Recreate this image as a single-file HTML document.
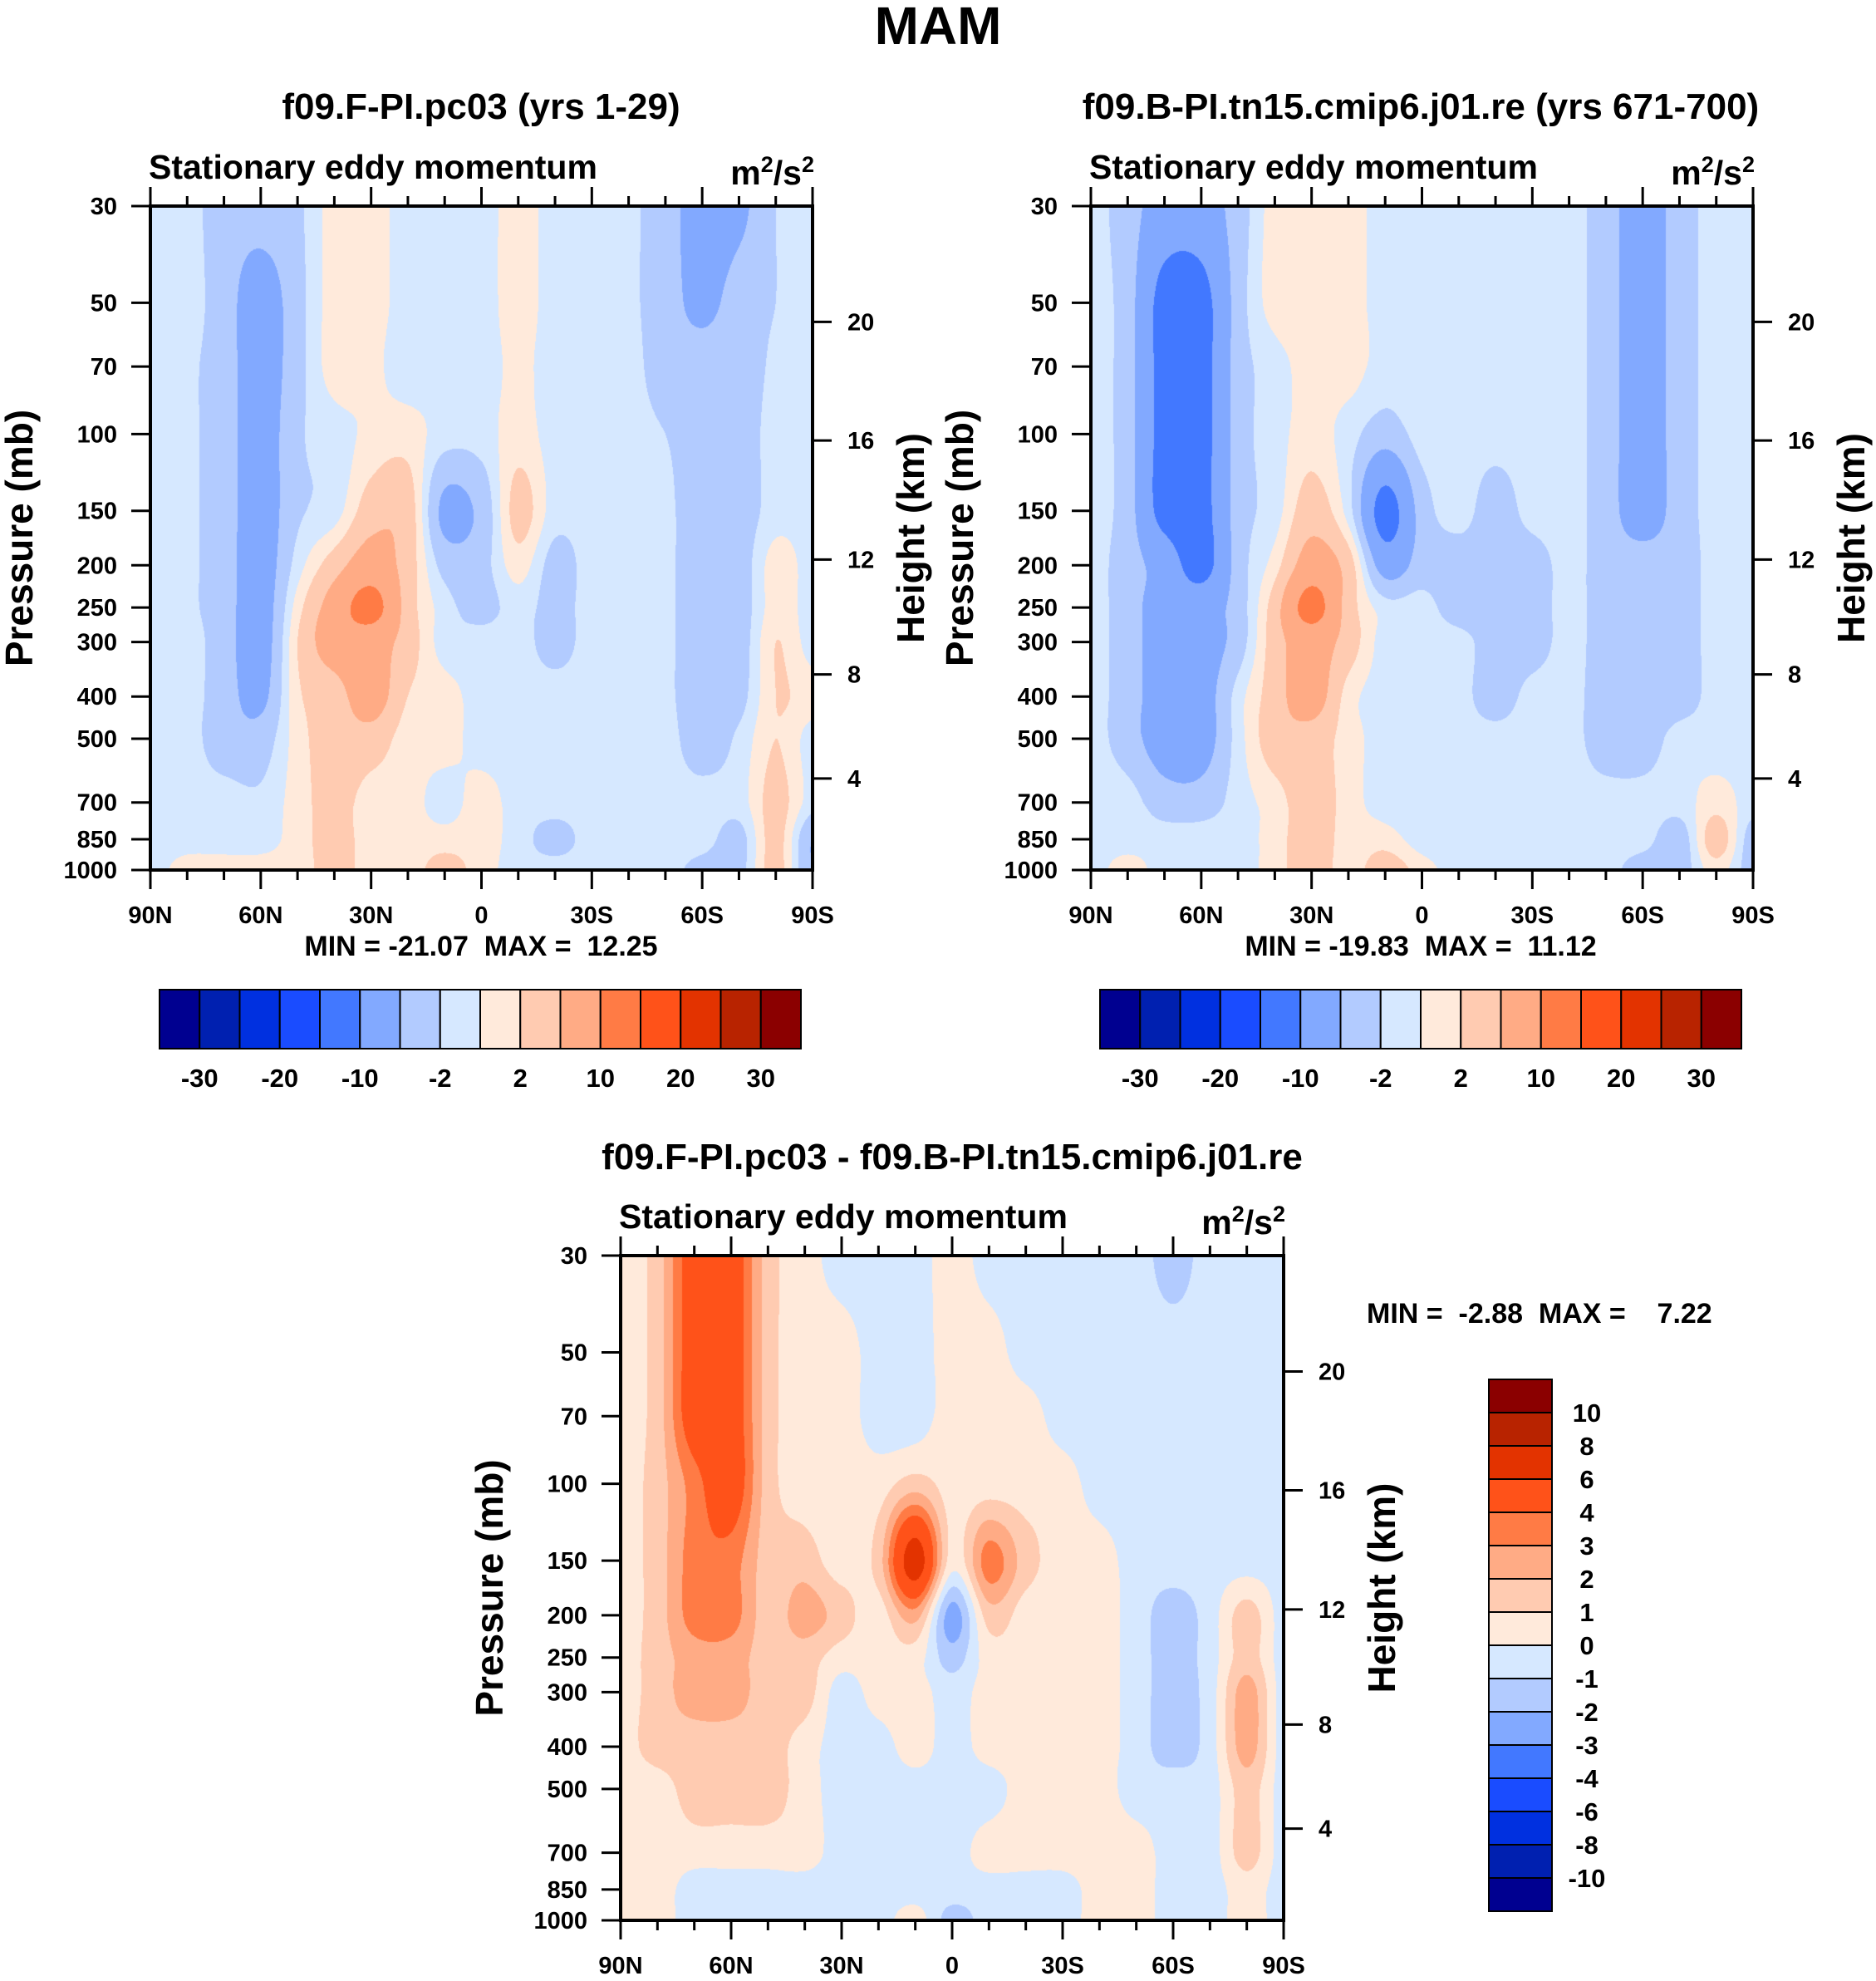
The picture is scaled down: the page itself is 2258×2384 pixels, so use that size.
<!DOCTYPE html>
<html><head><meta charset="utf-8">
<style>
html,body{margin:0;padding:0;background:#fff;}
#wrap{position:relative;width:2258px;height:2384px;overflow:hidden;background:#fff;}
canvas{position:absolute;}
svg{position:absolute;left:0;top:0;}
text{font-family:"Liberation Sans",sans-serif;font-weight:bold;fill:#000;}
</style></head>
<body>
<div id="wrap">
<canvas id="c1" width="797" height="799" style="left:181px;top:248px"></canvas>
<canvas id="c2" width="797" height="799" style="left:1313px;top:248px"></canvas>
<canvas id="c3" width="798" height="800" style="left:747px;top:1511px"></canvas>
<svg id="s" width="2258" height="2384"></svg>
</div>
<script>
// ---- data ----
const lats = [90,80,70,60,50,40,30,20,10,0,-10,-20,-30,-40,-50,-60,-70,-80,-90];
const levels = [30,50,70,100,150,200,250,300,400,500,700,850,1000];
const fieldCtrl = [
[-1,-1,-3.5,-3.5,-2.5,1,1,-1,-1,-1,1,-1,-1,-1.5,-3.5,-7,-6,-2,-1],
[-1,-1,-3.5,-7,-3,1,1,-1,-1,-1,1,-1,-1,-1.5,-3.5,-6,-3.5,-2,-1],
[-1,-1.5,-3.5,-7,-3,1,0.5,-1,-1,-1,0.5,-1,-1,-1,-3.5,-3.5,-3.5,-1.5,-1],
[-1,-1.5,-3.5,-7,-2.5,-1,0.5,1,-1,-1,1,-1,-1,-1,-2,-3.5,-3.5,-1,-1],
[-1,-1.5,-3.5,-7,-2.5,-1,3.5,3.5,-6,-4,3,-1,-1,-1,-1.5,-3.5,-3.5,-1,-1],
[-1,-1.5,-3.5,-7,-1,3.5,7,3.5,-3,-3,1,-3,-1,-1,-1.5,-3.5,-3.5,1,-1],
[-1,-1.5,-3.5,-7,1,7,12,3.5,-1,-3,-1,-3,-1,-1,-1.5,-3.5,-3.5,1,-1],
[-1,-1,-3.5,-7,2,7,7,3.5,-1,-1,-1,-3,-1,-1,-1.5,-3.5,-3.5,2,-1],
[-1,-1,-3.5,-6,1.5,3.5,7,2,1,-1,-1,-1,-1,-1,-1.5,-3.5,-3,2,1],
[-1,-1,-3.5,-3.5,1,3.5,3.5,1,1,-1,-1,-1,-1,-1,-1,-3.5,-1.5,2,-1],
[-1,-1,-1,-1.5,1,3,1,1,-1,1,-1,-1,-1,-1,-1,-1,-1,3,-1],
[-1,-1,-1,-1,1,3,1,1,1,1,-1,-3,-1,-1,-1,-1,-3,3,-5],
[-1,1,1,1,1,3,1,1,3,1,-1,-1,-1,-1,-1,-3,-3,3,-5]];
const fieldTest = [
[-1,-3.5,-7,-7,-3.5,1,1,1,-1,-1,-1,-1,-1,-1,-3.5,-7,-3.5,-1,-1],
[-1,-3.5,-12,-12,-3.5,1,1,1,-1,-1,-1,-1,-1,-1,-3.5,-7,-3.5,-1,-1],
[-1,-3.5,-12,-12,-3.5,-1,1,1,-1,-1,-1,-1,-1,-1,-3.5,-7,-3.5,-1,-1],
[-1,-3.5,-12,-12,-3.5,-1,1,-1,-3.5,-1,-1,-1,-1,-1,-3.5,-7,-3.5,-1,-1],
[-1,-3.5,-12,-12,-3.5,-1,3.5,-1,-12,-3.5,-1,-3.5,-1,-1,-3.5,-7,-3.5,-1,-1],
[-1,-3.5,-7,-12,-3.5,1,7,3.5,-7,-3.5,-3.5,-3.5,-3.5,-1,-3.5,-3.5,-3.5,-1,-1],
[-1,-3.5,-7,-7,-3.5,3.5,12,3.5,-1,-1,-3.5,-3.5,-3.5,-1,-3.5,-3.5,-3.5,-1,-1],
[-1,-3.5,-7,-7,-3.5,3.5,7,3.5,-1,-1,-1,-3.5,-3.5,-1,-3.5,-3.5,-3.5,-1,-1],
[-1,-3.5,-7,-7,-1,3.5,7,1,-1,-1,-1,-3.5,-1,-1,-3.5,-3.5,-3.5,-1,-1],
[-1,-3.5,-7,-7,-1,3.5,3.5,1,-1,-1,-1,-1,-1,-1,-3.5,-3.5,-1,-1,-1],
[-1,-1,-3.5,-3.5,-1,1,3.5,1,-1,-1,-1,-1,-1,-1,-1,-1,-1,1,-1],
[-1,-1,-1,-1,-1,1,3.5,1,1,-1,-1,-1,-1,-1,-1,-1,-3.5,3.5,-3.5],
[-1,1,-1,-1,-1,1,3.5,1,3.5,1,-1,-1,-1,-1,-1,-3.5,-3.5,1,-3.5]];
const fieldDiff = [
[0.5,1.5,5,5,1.5,0.5,-0.5,-0.5,-0.5,0.5,-0.5,-0.5,-0.5,-0.5,-0.5,-1.5,-0.5,-0.5,-0.5],
[0.5,1.5,5,5,1.5,0.5,0.5,-0.5,-0.5,0.5,0.5,-0.5,-0.5,-0.5,-0.5,-0.5,-0.5,-0.5,-0.5],
[0.5,1.5,5,5,1.5,0.5,0.5,-0.5,-0.5,0.5,0.5,0.5,-0.5,-0.5,-0.5,-0.5,-0.5,-0.5,-0.5],
[0.5,1.5,3.5,5,1.5,0.5,0.5,0.5,1.5,0.5,0.5,0.5,0.5,-0.5,-0.5,-0.5,-0.5,-0.5,-0.5],
[0.5,1.5,3.5,3.5,1.5,1.5,0.5,1.5,7,0.5,3.5,1.5,0.5,0.5,-0.5,-0.5,-0.5,-0.5,-0.5],
[0.5,1.5,3.5,3.5,1.5,2.5,1.5,0.5,2.5,-2.5,1.5,0.5,0.5,0.5,-0.5,-1.5,-0.5,1.5,-0.5],
[0.5,1.5,2.5,2.5,1.5,1.5,0.5,0.5,0.5,-1.5,0.5,0.5,0.5,0.5,-0.5,-1.5,-0.5,1.5,-0.5],
[0.5,1.5,2.5,2.5,1.5,1.5,-0.5,0.5,0.5,-0.5,0.5,0.5,0.5,0.5,-0.5,-1.5,-0.5,2.5,-0.5],
[0.5,1.5,1.5,1.5,1.5,0.5,-0.5,-0.5,0.5,-0.5,0.5,0.5,0.5,0.5,-0.5,-1.5,-0.5,2.5,-0.5],
[0.5,0.5,1.5,1.5,1.5,0.5,-0.5,-0.5,-0.5,-0.5,-0.5,0.5,0.5,0.5,-0.5,-0.5,-0.5,1.5,-0.5],
[0.5,0.5,0.5,0.5,0.5,0.5,-0.5,-0.5,-0.5,-0.5,0.5,0.5,0.5,0.5,0.5,-0.5,-0.5,1.5,-0.5],
[0.5,0.5,-0.5,-0.5,-0.5,-0.5,-0.5,-0.5,-0.5,-0.5,-0.5,-0.5,-0.5,0.5,0.5,-0.5,-0.5,0.5,-0.5],
[0.5,0.5,-0.5,-0.5,-0.5,-0.5,-0.5,-0.5,0.5,-1.5,-0.5,-0.5,-0.5,0.5,0.5,-0.5,-0.5,0.5,-0.5]];
const contourLevels = [-30,-25,-20,-15,-10,-5,-2,0,2,5,10,15,20,25,30];
const diffLevels = [-10,-8,-6,-4,-3,-2,-1,0,1,2,3,4,6,8,10];
const fillColors = ["#000090","#0020b0","#0030e0","#1a4cff","#4278ff","#82a9ff","#b2cbff","#d6e8ff","#ffeadb","#ffcbb1","#ffab85","#ff7b45","#ff5219","#e33300","#b82300","#8b0000"];
const pTicks = [30,50,70,100,150,200,250,300,400,500,700,850,1000];
const hTicks = [20,16,12,8,4];
const hTickP = [55.3,103.5,194,356,616.6];
const latTickLabels = ["90N","60N","30N","0","30S","60S","90S"];
const hBarLabels = ["-30","-20","-10","-2","2","10","20","30"];
const vBarLabels = ["10","8","6","4","3","2","1","0","-1","-2","-3","-4","-6","-8","-10"];

// ---- helpers ----
const P0=30,P1=1000,LR=Math.log(P1/P0);
const LOGL=levels.map(Math.log);
function yOfP(p,top,h){return top+Math.log(p/P0)/LR*h;}
function xOfLat(lat,left,w){return left+(90-lat)/180*w;}
function cr(p0,p1,p2,p3,t){
  return 0.5*((2*p1)+(-p0+p2)*t+(2*p0-5*p1+4*p2-p3)*t*t+(-p0+3*p1-3*p2+p3)*t*t*t);
}
function rowIndex(lp){
  let r=0; while(r<LOGL.length-2 && lp>LOGL[r+1]) r++;
  let t=(lp-LOGL[r])/(LOGL[r+1]-LOGL[r]); t=Math.max(0,Math.min(1,t));
  return r+t;
}
function interp(field,fx,fy){
  const nr=field.length,nc=field[0].length;
  const c=Math.min(Math.floor(fx),nc-2),tx=fx-c;
  const r=Math.min(Math.floor(fy),nr-2),ty=fy-r;
  const g=(i,j)=>field[Math.max(0,Math.min(nr-1,i))][Math.max(0,Math.min(nc-1,j))];
  const col=[];
  for(let k=-1;k<=2;k++){
    col.push(cr(g(r+k,c-1),g(r+k,c),g(r+k,c+1),g(r+k,c+2),tx));
  }
  return cr(col[0],col[1],col[2],col[3],ty);
}
function hex(h){return [parseInt(h.substr(1,2),16),parseInt(h.substr(3,2),16),parseInt(h.substr(5,2),16)];}
const rgb=fillColors.map(hex);
function drawField(id,field,lv){
  const cv=document.getElementById(id),ctx=cv.getContext('2d');
  const W=cv.width,H=cv.height,img=ctx.createImageData(W,H);
  for(let y=0;y<H;y++){
    const lp=Math.log(P0)+(y+0.5)/H*LR;
    const fy=rowIndex(lp);
    for(let x=0;x<W;x++){
      const fx=(x+0.5)/W*(lats.length-1);
      const v=interp(field,fx,fy);
      let k=0; while(k<lv.length && v>lv[k]) k++;
      const c=rgb[k],i=(y*W+x)*4;
      img.data[i]=c[0];img.data[i+1]=c[1];img.data[i+2]=c[2];img.data[i+3]=255;
    }
  }
  ctx.putImageData(img,0,0);
}
drawField('c1',fieldCtrl,contourLevels);
drawField('c2',fieldTest,contourLevels);
drawField('c3',fieldDiff,diffLevels);

const S=document.getElementById('s'),NS='http://www.w3.org/2000/svg';
function mk(tag,parent){const e=document.createElementNS(NS,tag);(parent||S).appendChild(e);return e;}
function txt(str,x,y,size,anchor,parent){const t=mk('text',parent);t.setAttribute('x',x);t.setAttribute('y',y);t.setAttribute('font-size',size);t.setAttribute('text-anchor',anchor||'start');t.textContent=str;return t;}
function line(x1,y1,x2,y2,w,parent){const l=mk('line',parent);l.setAttribute('x1',x1);l.setAttribute('y1',y1);l.setAttribute('x2',x2);l.setAttribute('y2',y2);l.setAttribute('stroke','#000');l.setAttribute('stroke-width',w);return l;}

const t0=txt('MAM',1129,53,64,'middle');



function panel(o){
  const g=mk('g');
  
  
  const L=o.left,T=o.top,W=o.w,H=o.h;
  const tt=txt(o.title,o.titleX,o.titleY,44,'middle',g);
  
  
  const st=txt('Stationary eddy momentum',L-2,T-33,41,'start',g);
  
  
  const un=txt('',L+W+2,T-26,41,'end',g);
  un.innerHTML='m<tspan dy="-15" font-size="27">2</tspan><tspan dy="15">/s</tspan><tspan dy="-15" font-size="27">2</tspan>';
  
  
  const fr=mk('rect',g);
  fr.setAttribute('x',L);fr.setAttribute('y',T);fr.setAttribute('width',W);fr.setAttribute('height',H);
  fr.setAttribute('fill','none');fr.setAttribute('stroke','#000');fr.setAttribute('stroke-width',4);
  
  
  for(let lat=90;lat>=-90;lat-=10){
    const x=xOfLat(lat,L,W),major=(lat%30===0),len=major?23:12;
    line(x,T+H,x,T+H+len,3,g);line(x,T,x,T-len,3,g);
  }
  latTickLabels.forEach((s,i)=>{
    const x=xOfLat(90-30*i,L,W);
    const lb=txt(s,x,T+H+64,29,'middle',g);
    
    
  });
  pTicks.forEach(p=>{
    const y=yOfP(p,T,H);
    line(L,y,L-23,y,3,g);
    const lb=txt(String(p),L-40,y+10,29,'end',g);
    
    
  });
  hTicks.forEach((h,i)=>{
    const y=yOfP(hTickP[i],T,H);
    line(L+W,y,L+W+23,y,3,g);
    const lb=txt(String(h),L+W+42,y+10,29,'start',g);
    
    
  });
  const yt=txt('Pressure (mb)',0,0,46,'middle',g);
  yt.setAttribute('transform','translate('+(L-142)+','+(T+H/2)+') rotate(-90)');
  
  
  const ht=txt('Height (km)',0,0,46,'middle',g);
  ht.setAttribute('transform','translate('+(L+W+134)+','+(T+H/2)+') rotate(-90)');
  
  
  const mm=txt(o.minmax,o.mmX,o.mmY,34,o.mmAnchor,g);
  mm.setAttribute('xml:space','preserve');
  mm.style.whiteSpace='pre';
  
  
}
panel({name:'control-panel',left:181,top:248,w:797,h:799,title:'f09.F-PI.pc03 (yrs 1-29)',titleX:579,titleY:143,minmax:'MIN = -21.07  MAX =  12.25',mmX:579,mmY:1150,mmAnchor:'middle'});
panel({name:'test-panel',left:1313,top:248,w:797,h:799,title:'f09.B-PI.tn15.cmip6.j01.re (yrs 671-700)',titleX:1710,titleY:143,minmax:'MIN = -19.83  MAX =  11.12',mmX:1710,mmY:1150,mmAnchor:'middle'});
panel({name:'difference-panel',left:747,top:1511,w:798,h:800,title:'f09.F-PI.pc03 - f09.B-PI.tn15.cmip6.j01.re',titleX:1146,titleY:1407,minmax:'MIN =  -2.88  MAX =    7.22',mmX:1645,mmY:1592,mmAnchor:'start'});

function hbar(x0,x1,y0,y1,name){
  const g=mk('g');
  
  
  const n=fillColors.length,bw=(x1-x0)/n;
  fillColors.forEach((c,i)=>{
    const r=mk('rect',g);
    r.setAttribute('x',x0+i*bw);r.setAttribute('y',y0);r.setAttribute('width',bw);r.setAttribute('height',y1-y0);
    r.setAttribute('fill',c);r.setAttribute('stroke','#000');r.setAttribute('stroke-width',2);
    
    
  });
  hBarLabels.forEach((s,i)=>{
    const lb=txt(s,x0+(1+2*i)*bw,y1+46,31,'middle',g);
    
    
  });
}
hbar(192,964,1191,1262,'control-colorbar');
hbar(1324,2096,1191,1262,'test-colorbar');

(function(){
  const g=mk('g');
  
  
  const x0=1792,x1=1868,y0=1660,y1=2300,n=fillColors.length,bh=(y1-y0)/n;
  fillColors.slice().reverse().forEach((c,i)=>{
    const r=mk('rect',g);
    r.setAttribute('x',x0);r.setAttribute('y',y0+i*bh);r.setAttribute('width',x1-x0);r.setAttribute('height',bh);
    r.setAttribute('fill',c);r.setAttribute('stroke','#000');r.setAttribute('stroke-width',2);
    
    
  });
  vBarLabels.forEach((s,i)=>{
    const lb=txt(s,1910,y0+(i+1)*bh+11,31,'middle',g);
    
    
  });
})();
</script>
</body></html>
